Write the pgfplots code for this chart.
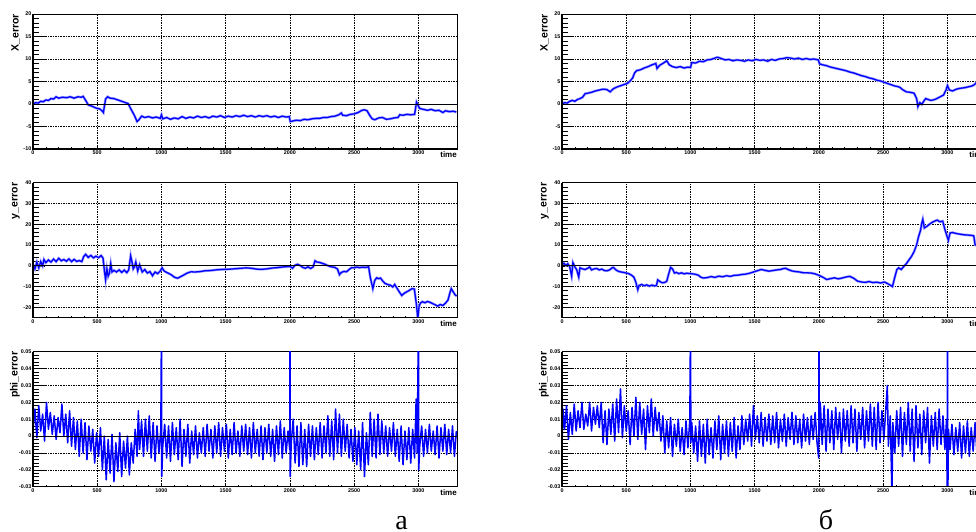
\documentclass[border=0pt]{standalone}
\usepackage{fontspec}
\setmainfont{Liberation Serif}
\newfontfamily\helv{Liberation Sans}
\usepackage{pgfplots}
\pgfplotsset{compat=1.18}
\usepackage{pgfplotstable}

% ---------- data ----------
\pgfplotstableread{
t v
0 0.0
20 0.3
40 0.2
60 0.6
80 0.5
100 0.9
120 0.8
140 1.2
160 1.1
180 1.6
200 1.3
230 1.5
260 1.4
290 1.6
320 1.3
350 1.6
375 1.5
390 1.7
410 0.8
430 -0.2
460 -0.5
490 -0.9
520 -1.1
540 -1.6
548 -1.9
555 -0.6
565 1.1
580 1.6
600 1.3
630 1.2
660 0.9
690 0.6
720 0.3
740 0.1
760 -1.0
790 -2.6
810 -3.9
825 -3.5
845 -2.7
870 -3.0
900 -2.8
930 -3.1
960 -2.9
990 -3.2
1000 -2.4
1010 -3.3
1040 -3.0
1070 -3.4
1100 -3.1
1130 -3.3
1160 -2.8
1190 -3.2
1220 -2.9
1250 -3.1
1280 -2.7
1310 -3.0
1340 -2.8
1370 -3.1
1400 -2.7
1430 -2.9
1460 -2.6
1490 -3.0
1520 -2.7
1550 -2.9
1580 -2.6
1610 -2.8
1640 -2.5
1670 -2.8
1700 -2.6
1730 -2.9
1760 -2.6
1790 -2.8
1820 -2.6
1850 -2.9
1880 -2.7
1910 -3.0
1940 -2.7
1970 -2.9
1995 -2.8
2002 -3.9
2020 -3.8
2050 -3.6
2080 -3.7
2110 -3.4
2140 -3.5
2170 -3.3
2200 -3.2
2230 -3.2
2260 -3.0
2290 -3.0
2320 -2.8
2350 -2.7
2380 -2.4
2400 -2.0
2410 -2.5
2440 -2.6
2470 -2.3
2500 -2.2
2530 -1.9
2560 -1.4
2580 -1.3
2600 -1.5
2620 -2.5
2640 -3.3
2660 -3.5
2690 -3.1
2720 -3.0
2750 -3.4
2780 -3.3
2810 -3.1
2840 -3.0
2855 -2.4
2880 -2.5
2910 -2.3
2940 -2.4
2970 -2.3
2985 0.4
2995 -0.2
3010 -1.0
3040 -1.2
3070 -1.4
3100 -1.2
3130 -1.5
3160 -1.4
3190 -1.9
3210 -1.5
3240 -1.7
3270 -1.6
3295 -1.8
}\xerrA

\pgfplotstableread{
t v
0 0.5
15 -1.5
30 1.8
45 -1.0
60 2.0
75 0.0
85 3.0
100 1.5
120 2.8
140 1.8
160 3.2
180 2.0
200 3.6
220 2.4
240 3.0
260 2.2
280 3.3
300 2.0
320 3.1
340 2.1
360 2.5
380 2.0
395 4.5
410 5.5
430 4.0
450 5.0
470 3.8
490 4.6
510 3.9
530 4.9
545 3.7
555 -2.0
565 -6.8
575 -1.5
585 -5.0
595 -3.5
605 1.0
615 -3.0
630 -2.2
650 -3.0
670 -2.0
690 -3.2
710 -2.1
730 -3.3
745 -2.0
760 4.8
770 2.0
780 -1.5
790 -0.5
800 1.8
815 -2.5
830 0.5
850 -3.0
870 -1.8
890 -3.5
910 -2.8
930 -4.8
950 -3.0
970 -3.8
990 -2.5
1005 -1.0
1020 -2.5
1040 -3.2
1060 -3.8
1080 -4.5
1100 -5.5
1125 -6.0
1150 -5.2
1175 -4.4
1200 -3.5
1230 -2.9
1260 -3.0
1300 -2.8
1340 -2.4
1380 -2.3
1420 -2.0
1460 -1.8
1500 -1.7
1540 -1.6
1580 -1.4
1620 -1.2
1660 -1.0
1700 -1.2
1740 -1.6
1780 -1.7
1820 -1.5
1860 -1.1
1900 -0.9
1940 -0.6
1980 -0.4
2000 -0.3
2020 -1.2
2040 0.3
2060 0.7
2080 0.1
2100 -0.8
2120 -1.2
2140 -0.5
2160 -1.3
2180 -0.6
2195 2.4
2210 1.8
2230 1.6
2250 1.2
2270 0.8
2290 0.2
2310 -0.3
2330 -0.6
2350 -0.8
2370 -1.6
2385 -4.3
2400 -3.2
2420 -2.7
2440 -2.9
2460 -1.8
2480 -0.9
2500 -1.0
2520 -0.6
2540 -0.9
2560 -0.7
2590 -0.8
2612 -0.5
2625 -5.5
2645 -11.0
2660 -7.0
2675 -5.8
2690 -6.2
2705 -5.9
2720 -7.2
2740 -8.5
2760 -9.0
2780 -9.3
2800 -10.2
2815 -9.0
2830 -10.5
2850 -12.5
2870 -14.3
2890 -13.2
2910 -12.5
2930 -11.8
2950 -11.0
2968 -11.2
2985 -19.0
2995 -25.5
3005 -19.5
3015 -18.0
3030 -17.3
3050 -17.8
3070 -17.2
3090 -17.6
3110 -18.2
3130 -18.8
3150 -19.4
3170 -18.7
3190 -19.1
3210 -18.0
3230 -16.5
3245 -13.0
3255 -11.0
3270 -12.5
3285 -14.0
3297 -14.6
}\yerrA

\pgfplotstableread{
t v
0 0.004
15 0.016
30 -0.001
45 0.018
60 0.003
75 0.013
90 -0.003
105 0.02
120 0.004
135 0.014
150 0.001
165 0.012
180 -0.002
195 0.011
210 0.002
225 0.019
240 0.0
255 0.013
270 -0.004
285 0.015
300 -0.006
315 0.011
330 -0.008
345 0.009
360 -0.012
375 0.01
390 -0.01
405 0.008
420 -0.014
435 0.006
450 -0.009
465 0.004
480 -0.016
495 0.002
510 -0.012
525 0.005
540 -0.02
555 0.0
570 -0.026
585 -0.002
600 -0.022
615 0.001
630 -0.027
645 -0.004
660 -0.021
675 0.002
690 -0.024
705 -0.003
720 -0.019
735 0.0
750 -0.023
765 -0.004
780 -0.016
795 0.004
810 -0.012
820 0.015
830 -0.008
845 0.009
860 -0.012
875 0.01
890 -0.009
905 0.012
920 -0.013
935 0.008
950 -0.015
965 0.006
980 -0.01
995 0.004
1000 0.07
1002 -0.024
1010 -0.006
1025 0.007
1040 -0.013
1055 0.006
1070 -0.015
1085 0.008
1100 -0.011
1115 0.005
1130 -0.014
1145 0.01
1160 -0.018
1175 0.004
1190 -0.012
1205 0.007
1220 -0.016
1235 0.003
1250 -0.011
1265 0.006
1280 -0.013
1295 0.002
1310 -0.01
1325 0.005
1340 -0.012
1355 0.007
1370 -0.009
1385 0.004
1400 -0.013
1415 0.006
1430 -0.01
1445 0.008
1460 -0.012
1475 0.005
1490 -0.009
1505 0.007
1520 -0.013
1535 0.004
1550 -0.011
1565 0.008
1580 -0.01
1595 0.003
1610 -0.012
1625 0.006
1640 -0.009
1655 0.007
1670 -0.011
1685 0.005
1700 -0.013
1715 0.008
1730 -0.01
1745 0.004
1760 -0.012
1775 0.006
1790 -0.014
1805 0.005
1820 -0.01
1835 0.007
1850 -0.012
1865 0.004
1880 -0.015
1895 0.006
1910 -0.011
1925 0.009
1940 -0.013
1955 0.005
1970 -0.01
1985 0.003
1998 -0.008
2000 0.07
2002 -0.024
2010 -0.004
2025 0.01
2040 -0.016
2055 0.006
2070 -0.018
2085 0.008
2100 -0.017
2115 0.004
2130 -0.018
2145 0.007
2160 -0.012
2175 0.006
2190 -0.014
2205 0.005
2220 -0.011
2235 0.008
2250 -0.013
2265 0.006
2280 -0.01
2295 0.012
2310 -0.012
2325 0.009
2340 -0.014
2355 0.016
2370 -0.01
2385 0.013
2400 -0.012
2415 0.01
2430 -0.009
2445 0.007
2460 -0.013
2475 0.004
2490 -0.015
2505 0.005
2520 -0.017
2535 0.003
2550 -0.02
2565 0.008
2580 -0.024
2595 0.002
2610 -0.017
2625 0.014
2640 -0.012
2655 0.01
2670 -0.013
2685 0.013
2700 -0.011
2715 0.009
2730 -0.01
2745 0.006
2760 -0.012
2775 0.005
2790 -0.009
2805 0.008
2820 -0.012
2835 0.004
2850 -0.015
2865 0.006
2880 -0.017
2895 0.003
2910 -0.014
2925 0.005
2940 -0.016
2955 0.004
2970 -0.013
2982 0.022
2990 -0.01
3000 0.07
3002 -0.02
3010 -0.006
3025 0.006
3040 -0.012
3055 0.004
3070 -0.01
3085 0.007
3100 -0.009
3115 0.003
3130 -0.011
3145 0.006
3160 -0.013
3175 0.005
3190 -0.009
3205 0.007
3220 -0.011
3235 0.004
3250 -0.01
3265 0.006
3280 -0.012
3295 0.003
}\phiA

\pgfplotstableread{
t v
0 0.0
20 0.3
40 0.2
60 0.6
80 0.8
100 0.6
120 1.0
140 1.2
160 1.5
180 2.3
200 2.4
230 2.6
260 2.9
290 3.1
320 3.3
350 3.2
375 2.7
400 3.4
430 3.8
460 4.1
490 4.4
510 4.6
530 5.1
550 5.8
565 6.9
580 7.4
610 7.6
640 8.0
670 8.3
700 8.7
730 9.0
740 7.9
760 8.6
790 9.1
815 9.6
835 8.7
860 8.3
890 8.1
920 8.3
950 8.0
980 8.2
1000 8.1
1010 9.2
1040 9.1
1070 9.5
1100 9.4
1130 9.8
1160 9.9
1190 10.2
1210 10.4
1240 10.1
1270 9.8
1300 9.9
1330 9.6
1360 9.8
1390 9.7
1420 9.5
1450 9.8
1480 9.6
1510 9.9
1540 9.7
1570 9.8
1600 9.5
1630 9.9
1660 9.7
1690 10.0
1720 10.1
1750 10.3
1780 10.2
1810 10.0
1840 10.2
1870 9.9
1900 10.1
1930 9.9
1960 10.0
1995 9.8
2005 8.9
2030 8.7
2060 8.5
2090 8.2
2120 8.0
2150 7.8
2180 7.6
2210 7.4
2240 7.1
2270 6.9
2300 6.6
2330 6.3
2360 6.1
2390 5.8
2420 5.6
2450 5.3
2480 5.1
2500 4.9
2530 4.6
2560 4.3
2590 4.0
2610 3.9
2630 3.7
2650 3.2
2680 2.7
2710 2.6
2740 2.4
2760 1.2
2770 -0.6
2785 0.3
2800 -0.1
2815 0.6
2830 1.2
2850 1.0
2870 0.8
2890 0.9
2910 1.1
2930 1.4
2950 1.7
2970 2.0
2990 3.2
3000 4.1
3015 3.1
3040 2.9
3070 3.3
3100 3.5
3130 3.6
3160 3.8
3190 4.0
3210 4.3
3230 4.9
3260 5.2
3290 5.4
}\xerrB

\pgfplotstableread{
t v
0 0.5
15 1.2
30 0.2
45 1.0
60 -0.5
75 -5.0
85 1.5
100 -0.5
115 -2.0
130 -5.4
140 -1.0
160 -1.5
180 -1.8
200 -1.2
215 -0.6
230 -2.0
250 -1.5
270 -1.3
290 -2.0
310 -1.6
330 -2.3
350 -2.4
370 -2.0
390 -1.0
400 -0.8
420 -2.0
440 -2.7
460 -3.0
480 -3.2
500 -3.5
520 -3.8
540 -4.5
560 -5.5
575 -8.0
590 -11.5
600 -9.5
620 -9.0
640 -9.6
660 -9.2
680 -9.8
700 -9.3
720 -9.7
735 -9.5
745 -6.8
760 -7.5
780 -8.2
800 -8.0
815 -7.5
830 -4.0
845 -0.8
860 -1.5
875 -3.5
890 -3.2
910 -3.8
930 -3.4
950 -3.9
970 -3.6
1000 -3.8
1030 -4.0
1060 -4.5
1080 -5.5
1100 -5.9
1130 -5.7
1160 -5.2
1190 -5.6
1220 -5.0
1250 -5.3
1280 -4.8
1310 -5.1
1340 -4.6
1370 -4.5
1400 -4.2
1430 -4.0
1460 -3.6
1490 -3.0
1520 -2.4
1550 -1.8
1580 -2.2
1610 -2.6
1640 -2.3
1670 -2.0
1700 -1.8
1720 -1.4
1740 -1.2
1760 -1.8
1790 -2.5
1820 -2.8
1850 -3.0
1880 -3.4
1910 -3.4
1940 -3.5
1970 -3.9
2000 -4.6
2030 -5.5
2060 -6.6
2090 -6.2
2120 -5.8
2150 -6.3
2180 -5.9
2210 -5.4
2240 -5.1
2270 -6.0
2300 -7.4
2330 -7.8
2360 -8.0
2390 -7.6
2420 -8.1
2450 -7.9
2480 -8.3
2510 -7.8
2540 -8.8
2560 -9.5
2572 -10.0
2590 -5.5
2606 -1.9
2620 -1.0
2640 -1.8
2660 -0.3
2680 1.0
2700 2.8
2720 4.5
2740 6.8
2760 10.1
2775 14.0
2790 17.0
2800 20.5
2808 22.4
2820 18.2
2840 19.0
2860 20.0
2878 20.8
2900 21.5
2920 22.0
2940 21.2
2963 21.5
2980 17.5
3000 13.5
3007 12.2
3020 15.8
3040 16.0
3070 15.5
3100 15.2
3130 14.9
3160 14.8
3190 14.6
3205 14.4
3215 10.1
3240 9.5
3270 9.6
3295 9.8
}\yerrB

\pgfplotstableread{
t v
0 -0.005
8 0.016
20 0.004
35 0.018
50 -0.002
65 0.014
80 0.001
95 0.019
110 0.003
125 0.015
140 0.005
155 0.02
170 0.004
185 0.013
200 0.006
215 0.02
230 0.003
245 0.017
260 0.007
275 0.018
290 0.005
305 0.02
320 -0.004
335 0.015
350 -0.005
365 0.016
380 0.001
395 0.019
410 -0.003
425 0.022
440 0.002
455 0.028
470 -0.001
485 0.018
500 0.003
515 0.015
530 -0.005
545 0.017
560 0.0
575 0.023
590 -0.002
605 0.02
620 0.001
635 0.016
650 -0.008
665 0.018
680 0.002
695 0.022
710 0.0
725 0.017
740 0.003
755 0.014
770 -0.003
785 0.012
800 -0.01
815 0.009
830 -0.007
845 0.011
860 -0.012
875 0.007
890 -0.006
905 0.01
920 -0.009
935 0.005
950 -0.011
965 0.009
980 -0.007
995 0.01
1000 0.07
1003 -0.004
1010 0.008
1025 -0.01
1040 0.006
1055 -0.015
1070 0.009
1085 -0.012
1100 0.007
1115 -0.016
1130 0.01
1145 -0.011
1160 0.005
1175 -0.013
1190 0.009
1205 -0.008
1220 0.012
1235 -0.014
1250 0.007
1265 -0.01
1280 0.009
1295 -0.012
1310 0.008
1325 -0.009
1340 0.011
1355 -0.013
1370 0.006
1385 -0.008
1400 0.012
1415 -0.005
1430 0.01
1445 -0.003
1460 0.013
1475 -0.006
1490 0.018
1505 -0.002
1520 0.012
1535 -0.004
1550 0.014
1565 -0.006
1580 0.011
1595 -0.003
1610 0.013
1625 -0.005
1640 0.012
1655 -0.004
1670 0.014
1685 -0.007
1700 0.01
1715 -0.003
1730 0.013
1745 -0.006
1760 0.011
1775 -0.002
1790 0.014
1805 -0.005
1820 0.012
1835 -0.004
1850 0.01
1865 -0.007
1880 0.013
1895 -0.003
1910 0.011
1925 -0.005
1940 0.012
1955 -0.002
1970 0.014
1985 -0.004
1998 -0.013
2000 0.07
2003 0.0
2010 0.02
2025 -0.005
2040 0.018
2055 -0.009
2070 0.016
2085 -0.004
2100 0.015
2115 -0.008
2130 0.017
2145 -0.002
2160 0.014
2175 -0.01
2190 0.016
2205 -0.003
2220 0.015
2235 -0.006
2250 0.018
2265 -0.004
2280 0.016
2295 -0.009
2310 0.014
2325 -0.002
2340 0.017
2355 -0.007
2370 0.015
2385 -0.003
2400 0.019
2415 -0.006
2430 0.017
2445 -0.008
2460 0.02
2475 -0.004
2490 0.015
2505 -0.002
2520 0.016
2532 0.03
2540 -0.006
2555 0.012
2568 -0.035
2575 0.008
2590 -0.01
2605 0.015
2620 -0.006
2635 0.017
2650 -0.012
2665 0.014
2680 -0.005
2695 0.02
2710 -0.009
2725 0.016
2740 -0.015
2755 0.018
2770 -0.007
2785 0.013
2800 -0.011
2815 0.015
2830 -0.004
2845 0.017
2860 -0.016
2875 0.012
2890 -0.006
2905 0.014
2920 -0.008
2935 0.016
2950 -0.005
2965 0.012
2980 -0.008
2993 0.01
2998 -0.035
3000 0.07
3003 -0.035
3008 0.004
3020 -0.008
3035 0.007
3050 -0.011
3065 0.005
3080 -0.009
3095 0.008
3110 -0.013
3125 0.006
3140 -0.01
3155 0.009
3170 -0.012
3185 0.005
3200 -0.009
3215 0.008
3230 -0.011
3245 0.006
3260 -0.01
3275 0.007
3290 -0.008
}\phiB

\pgfplotsset{
  rootax/.style={
    scale only axis, width=424pt, height=135pt,
    anchor=south west,
    xmin=0, xmax=3300,
    xtick={0,500,1000,1500,2000,2500,3000},
    xticklabels={0,500,1000,1500,2000,2500,3000},
    minor x tick num=4,
    minor y tick num=4,
    tick align=inside,
    xtick pos=bottom, ytick pos=left,
    major tick length=12pt, minor tick length=6pt,
    xtick style={/pgfplots/major tick length=4pt, /pgfplots/minor tick length=2pt},
    grid=major,
    major grid style={black, dash pattern=on 1.5pt off 1pt, line width=0.6pt},
    axis line style={black, line width=0.5pt},
    tick style={black, line width=0.5pt},
    ticklabel style={font=\helv\bfseries\fontsize{5.4}{6}\selectfont},
    yticklabel style={inner sep=1.5pt},
    xticklabel style={inner sep=1.5pt},
    scaled y ticks=false, scaled x ticks=false,
    xlabel={time},
    xlabel style={at={(rel axis cs:1,0)}, anchor=north east, inner sep=0pt,
      yshift=-3pt, font=\helv\bfseries\fontsize{8}{9}\selectfont},
    ylabel style={at={([xshift=-13pt]rel axis cs:0,1)}, anchor=south east,
      inner sep=0pt, font=\helv\bfseries\fontsize{10.5}{12}\selectfont},
    clip mode=individual,
  },
  xpanel/.style={ymin=-10, ymax=20, ytick={-10,-5,0,5,10,15,20},
    yticklabels={-10,-5,0,5,10,15,20}, ylabel={X\_error}},
  ypanel/.style={ymin=-25, ymax=40, ytick={-20,-10,0,10,20,30,40},
    yticklabels={-20,-10,0,10,20,30,40}, ylabel={y\_error}},
  phipanel/.style={ymin=-0.03, ymax=0.05,
    ytick={-0.03,-0.02,-0.01,0,0.01,0.02,0.03,0.04,0.05},
    yticklabels={-0.03,-0.02,-0.01,0,0.01,0.02,0.03,0.04,0.05},
    ylabel={phi\_error}},
  halo/.style={color=blue!35, line width=2.6pt},
  trace/.style={color=blue, line width=1.3pt},
  noisy/.style={color=blue, line width=1.5pt, line join=round},
}

\newcommand\rootframe{%
  \draw[black, line width=0.6pt] (axis cs:0,0) -- (axis cs:3300,0);
  \draw[black, line width=1.3pt] (rel axis cs:0,1) -- (rel axis cs:0,0) -- (rel axis cs:1,0);
}

\begin{document}
\begin{tikzpicture}
\useasboundingbox (0pt,0pt) rectangle (976pt,532pt);
\clip (0pt,0pt) rectangle (976pt,532pt);

% left column (a)
\begin{axis}[rootax, xpanel, at={(33pt,383pt)}]
  \addplot[halo] table {\xerrA};
  \addplot[trace] table {\xerrA};
  \rootframe
\end{axis}
\begin{axis}[rootax, ypanel, at={(33pt,214.3pt)}]
  \addplot[halo] table {\yerrA};
  \addplot[trace] table {\yerrA};
  \rootframe
\end{axis}
\begin{axis}[rootax, phipanel, at={(33pt,45.3pt)}]
  \addplot[noisy] table {\phiA};
  \rootframe
\end{axis}

% right column (b), cut by the page edge
\begin{axis}[rootax, xpanel, at={(562pt,383pt)}]
  \addplot[halo] table {\xerrB};
  \addplot[trace] table {\xerrB};
  \rootframe
\end{axis}
\begin{axis}[rootax, ypanel, at={(562pt,214.3pt)}]
  \addplot[halo] table {\yerrB};
  \addplot[trace] table {\yerrB};
  \rootframe
\end{axis}
\begin{axis}[rootax, phipanel, at={(562pt,45.3pt)}]
  \addplot[noisy] table {\phiB};
  \rootframe
\end{axis}

\node[anchor=base, inner sep=0pt, font=\fontsize{28}{30}\selectfont] at (401.7pt,2.5pt) {а};
\node[anchor=base, inner sep=0pt, font=\fontsize{28}{30}\selectfont] at (826pt,2.5pt) {б};
\end{tikzpicture}
\end{document}
